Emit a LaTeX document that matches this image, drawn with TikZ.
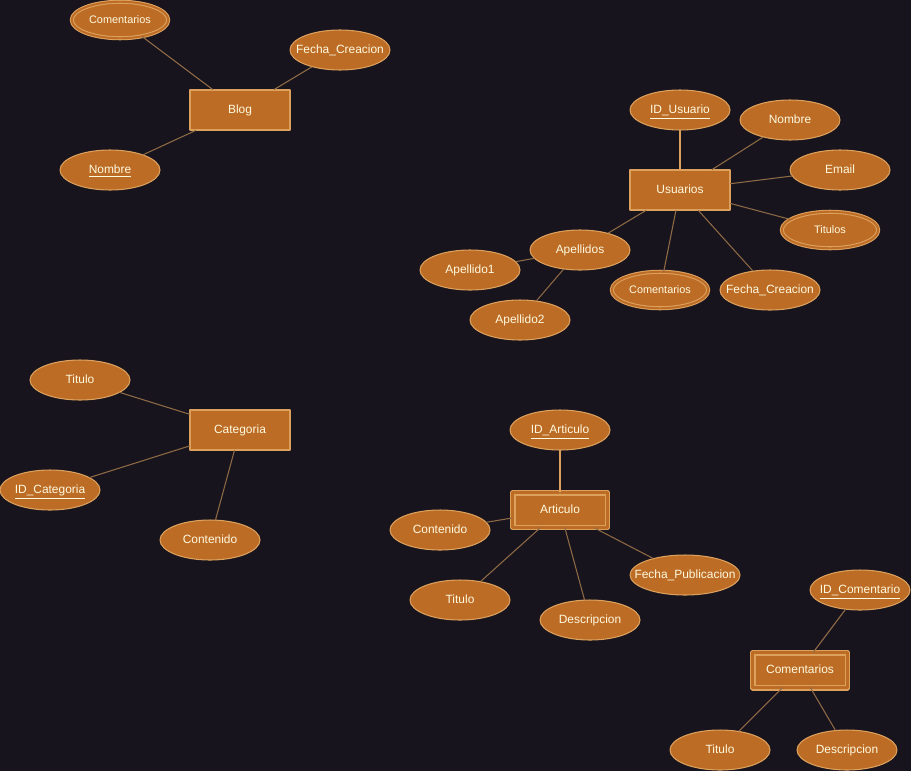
\documentclass[tikz,border=0pt]{standalone}
\usepackage{fontspec}
\setmainfont{Liberation Sans}
\usetikzlibrary{shapes.geometric}
\definecolor{fondo}{HTML}{18141D}
\definecolor{relleno}{HTML}{BC6C25}
\definecolor{borde}{HTML}{DDA15E}
\definecolor{letra}{HTML}{FEFAE0}
\definecolor{linea}{HTML}{8E6A45}
\tikzset{
  entidad/.style={draw=borde,fill=relleno,text=letra,line width=0.6pt,minimum width=2cm,minimum height=0.8cm,inner sep=0pt,text height=5pt,text depth=1.2pt,font=\fontsize{6.8}{8}\selectfont},
  debil/.style={entidad,double=relleno,double distance=2.2pt,minimum width=1.9cm,minimum height=0.7cm},
  atrib/.style={entidad,ellipse,inner xsep=-8pt},
  multi/.style={atrib,double=relleno,double distance=1.1pt,minimum width=1.93cm,minimum height=0.73cm,font=\fontsize{6.2}{7}\selectfont},
  rel/.style={draw=linea,line width=0.6pt},
  clave/.style={draw=borde,line width=0.6pt}
}
\begin{document}
\begin{tikzpicture}[x=0.02cm,y=-0.02cm,line join=round,line cap=round]
\fill[fondo] (0,0) rectangle (911,771);
\useasboundingbox (0,0) rectangle (911,771);
% Blog
\node[entidad] (blog) at (240,110) {Blog};
\node[multi] (blogcom) at (120,20) {Comentarios};
\node[atrib] (blogfecha) at (340,50) {Fecha\_Creacion};
\node[atrib] (blognom) at (110,170) {\underline{Nombre}};
\draw[rel] (blog)--(blogcom) (blog)--(blogfecha) (blog)--(blognom);
% Usuarios
\node[entidad] (usr) at (680,190) {Usuarios};
\node[atrib] (usrid) at (680,110) {\underline{ID\_Usuario}};
\node[atrib] (usrnom) at (790,120) {Nombre};
\node[atrib] (usrmail) at (840,170) {Email};
\node[multi] (usrtit) at (830,230) {Titulos};
\node[atrib] (usrfecha) at (770,290) {Fecha\_Creacion};
\node[multi] (usrcom) at (660,290) {Comentarios};
\node[atrib] (usrape) at (580,250) {Apellidos};
\node[atrib] (usrape1) at (470,270) {Apellido1};
\node[atrib] (usrape2) at (520,320) {Apellido2};
\draw[clave] (usr)--(usrid);
\draw[rel] (usr)--(usrnom) (usr)--(usrmail) (usr)--(usrtit) (usr)--(usrfecha)
  (usr)--(usrcom) (usr)--(usrape) (usrape)--(usrape1) (usrape)--(usrape2);
% Categoria
\node[entidad] (cat) at (240,430) {Categoria};
\node[atrib] (cattit) at (80,380) {Titulo};
\node[atrib] (catid) at (50,490) {\underline{ID\_Categoria}};
\node[atrib] (catcont) at (210,540) {Contenido};
\draw[rel] (cat)--(cattit) (cat)--(catid) (cat)--(catcont);
% Articulo
\node[debil] (art) at (560,510) {Articulo};
\node[atrib] (artid) at (560,430) {\underline{ID\_Articulo}};
\node[atrib] (artcont) at (440,530) {Contenido};
\node[atrib] (arttit) at (460,600) {Titulo};
\node[atrib] (artdesc) at (590,620) {Descripcion};
\node[atrib,minimum width=2.2cm] (artfecha) at (685,575) {Fecha\_Publicacion};
\draw[clave] (art)--(artid);
\draw[rel] (art)--(artcont) (art)--(arttit) (art)--(artdesc) (art)--(artfecha);
% Comentarios
\node[debil] (com) at (800,670) {Comentarios};
\node[atrib] (comid) at (860,590) {\underline{ID\_Comentario}};
\node[atrib] (comtit) at (720,750) {Titulo};
\node[atrib] (comdesc) at (847,750) {Descripcion};
\draw[rel] (com)--(comid) (com)--(comtit) (com)--(comdesc);
\end{tikzpicture}
\end{document}
